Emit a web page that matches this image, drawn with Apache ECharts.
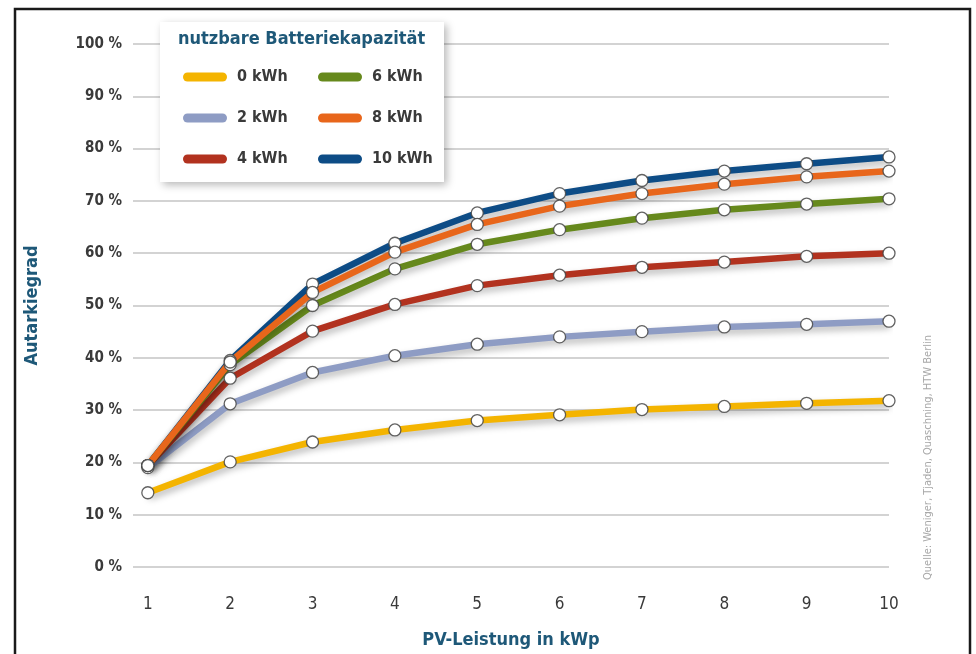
<!DOCTYPE html>
<html>
<head>
<meta charset="utf-8">
<title>Autarkiegrad</title>
<script src="https://cdn.jsdelivr.net/npm/echarts@6/dist/echarts.min.js"></script>
<style>
  html, body { margin: 0; padding: 0; background: #fff; }
  #chart { width: 976px; height: 654px; }
</style>
</head>
<body>
<div id="chart"></div>
<script>
// PV-Leistung in kWp
const pvLeistung = [1, 2, 3, 4, 5, 6, 7, 8, 9, 10];

// Autarkiegrad in % je nutzbarer Batteriekapazität
const kwh0  = [14.2, 20.1, 23.9, 26.2, 28.0, 29.1, 30.1, 30.7, 31.3, 31.8];
const kwh2  = [19.0, 31.2, 37.2, 40.4, 42.6, 44.0, 45.0, 45.9, 46.4, 47.0];
const kwh4  = [19.4, 36.1, 45.1, 50.2, 53.8, 55.8, 57.3, 58.3, 59.4, 60.0];
const kwh6  = [19.4, 38.7, 50.0, 57.0, 61.7, 64.5, 66.7, 68.3, 69.4, 70.4];
const kwh8  = [19.4, 39.2, 52.5, 60.2, 65.5, 69.0, 71.4, 73.2, 74.6, 75.7];
const kwh10 = [19.4, 39.5, 54.1, 61.9, 67.7, 71.4, 73.9, 75.7, 77.1, 78.4];

const seriesNames = ['0 kWh', '2 kWh', '4 kWh', '6 kWh', '8 kWh', '10 kWh'];
const yTicks = [0, 10, 20, 30, 40, 50, 60, 70, 80, 90, 100];

const colors = {
  '0 kWh': '#F4B400',
  '2 kWh': '#8E9CC4',
  '4 kWh': '#B2321F',
  '6 kWh': '#66891C',
  '8 kWh': '#E8661B',
  '10 kWh': '#0D4C86'
};
const valuesByName = {
  '0 kWh': kwh0, '2 kWh': kwh2, '4 kWh': kwh4,
  '6 kWh': kwh6, '8 kWh': kwh8, '10 kWh': kwh10
};

const FONT = "'Liberation Sans Narrow', 'DejaVu Sans Condensed', 'Roboto', sans-serif";
const TITLE_BLUE = '#1E5878';

function makeSeries(name) {
  return {
    name: name,
    type: 'line',
    data: pvLeistung.map((x, i) => [x, valuesByName[name][i]]),
    symbol: 'circle',
    symbolSize: 12,
    showSymbol: true,
    color: colors[name],
    lineStyle: {
      color: colors[name],
      width: 6.5,
      shadowColor: 'rgba(0,0,0,0.28)',
      shadowBlur: 7,
      shadowOffsetX: 1,
      shadowOffsetY: 4
    },
    itemStyle: {
      color: '#ffffff',
      borderColor: 'rgba(70,70,70,0.85)',
      borderWidth: 1.3
    },
    emphasis: { disabled: true },
    z: 3
  };
}

// 10 kWh sits underneath the 8 kWh line where both overlap
const drawOrder = ['10 kWh', '0 kWh', '2 kWh', '4 kWh', '6 kWh', '8 kWh'];

function legendItems(names) {
  return names.map(n => ({ name: n, itemStyle: { color: colors[n], borderWidth: 0 } }));
}

const legendCommon = {
  orient: 'vertical',
  top: 62,
  itemWidth: 44,
  itemHeight: 9,
  itemGap: 21,
  icon: 'path://M4.5,0 H39.5 A4.5,4.5 0 0 1 39.5,9 H4.5 A4.5,4.5 0 0 1 4.5,0 Z',
  selectedMode: false,
  textStyle: {
    fontFamily: FONT,
    fontSize: 16,
    fontWeight: 'bold',
    color: '#3a3a3a',
    lineHeight: 20,
    padding: [0, 0, 0, 5]
  },
  z: 20
};

const chart = echarts.init(document.getElementById('chart'), null, { renderer: 'canvas' });

chart.setOption({
  backgroundColor: '#ffffff',
  animation: false,
  grid: { left: 133, right: 87, top: 44, bottom: 78, containLabel: false },
  xAxis: {
    type: 'value',
    min: 0.82,
    max: 10,
    name: 'PV-Leistung in kWp',
    nameLocation: 'middle',
    nameGap: 64,
    nameTextStyle: { fontFamily: FONT, fontSize: 18, fontWeight: 'bold', color: TITLE_BLUE },
    axisLine: { show: false },
    axisTick: { show: false },
    splitLine: { show: false },
    axisLabel: {
      customValues: pvLeistung,
      margin: 29,
      fontFamily: FONT,
      fontSize: 17,
      color: '#3a3a3a'
    }
  },
  yAxis: {
    type: 'value',
    min: 0,
    max: 100,
    interval: 10,
    name: 'Autarkiegrad',
    nameLocation: 'middle',
    nameGap: 92,
    nameRotate: 90,
    nameTextStyle: { fontFamily: FONT, fontSize: 18, fontWeight: 'bold', color: TITLE_BLUE },
    axisLine: { show: false },
    axisTick: { show: false },
    splitLine: { show: true, lineStyle: { color: '#d3d3d3', width: 2 } },
    axisLabel: {
      customValues: yTicks,
      formatter: v => v + ' %',
      margin: 11,
      fontFamily: FONT,
      fontSize: 15,
      fontWeight: 'bold',
      color: '#3a3a3a'
    }
  },
  legend: [
    Object.assign({}, legendCommon, { left: 178, data: legendItems(['0 kWh', '2 kWh', '4 kWh']) }),
    Object.assign({}, legendCommon, { left: 313, data: legendItems(['6 kWh', '8 kWh', '10 kWh']) })
  ],
  graphic: [
    // outer frame
    {
      type: 'rect',
      shape: { x: 15, y: 9, width: 955, height: 660 },
      style: { fill: 'none', stroke: '#1a1a1a', lineWidth: 2.5 },
      z: 30, silent: true
    },
    // legend panel
    {
      type: 'rect',
      shape: { x: 160, y: 22, width: 284, height: 160 },
      style: {
        fill: '#ffffff',
        shadowColor: 'rgba(0,0,0,0.28)',
        shadowBlur: 8,
        shadowOffsetX: 3,
        shadowOffsetY: 3
      },
      z: 10, silent: true
    },
    {
      type: 'text',
      left: 178, top: 30,
      style: {
        text: 'nutzbare Batteriekapazität',
        fontFamily: FONT,
        fontSize: 18,
        fontWeight: 'bold',
        fill: TITLE_BLUE
      },
      z: 11, silent: true
    },
    // source note
    {
      type: 'text',
      x: 928, y: 580,
      rotation: Math.PI / 2,
      style: {
        text: 'Quelle: Weniger, Tjaden, Quaschning, HTW Berlin',
        fontFamily: FONT,
        fontSize: 11,
        fill: '#a8a8a8',
        align: 'left',
        verticalAlign: 'middle'
      },
      z: 11, silent: true
    }
  ],
  series: drawOrder.map(makeSeries)
});
</script>
</body>
</html>
